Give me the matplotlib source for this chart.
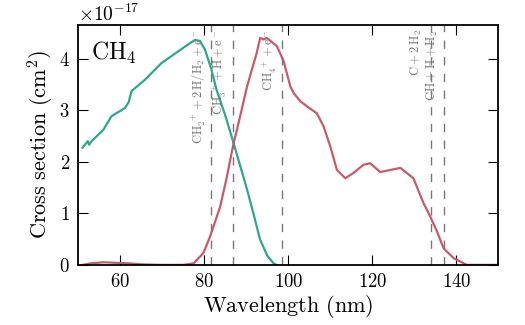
import numpy as np
import matplotlib
matplotlib.use("Agg")
import matplotlib.pyplot as plt

plt.rcParams.update({
    "font.family": "serif",
    "font.serif": ["cmr10"],
    "mathtext.fontset": "cm",
    "axes.formatter.use_mathtext": True,
    "xtick.direction": "in",
    "ytick.direction": "in",
    "xtick.top": True,
    "ytick.right": True,
})

# ionisation-type channel (teal)
wl_teal = [51.0, 51.6, 52.3, 52.6, 53.2, 56.0, 57.9, 61.1, 62.0, 62.7, 65.9,
           69.8, 73.8, 77.0, 77.8, 79.0, 80.2, 81.7, 82.9, 85.0, 87.0, 88.6,
           90.2, 91.7, 93.3, 95.0, 96.5, 97.2]
cs_teal = [2.27, 2.33, 2.40, 2.33, 2.40, 2.62, 2.88, 3.04, 3.15, 3.37, 3.59,
           3.91, 4.14, 4.32, 4.36, 4.34, 4.17, 3.79, 3.40, 2.90, 2.36, 1.91,
           1.46, 1.00, 0.49, 0.18, 0.03, 0.0]

# dissociation channel (red)
wl_red = [51.0, 53.0, 56.0, 59.0, 62.0, 65.0, 70.0, 75.0, 77.5, 79.8, 81.4,
          83.8, 85.4, 86.2, 87.0, 87.8, 90.2, 92.5, 93.3, 94.1, 94.9, 97.3,
          98.9, 100.5, 101.3, 102.9, 105.2, 106.8, 108.4, 110.0, 111.6, 113.6,
          115.5, 117.9, 119.5, 121.9, 124.3, 126.7, 129.8, 132.2, 133.8,
          135.4, 137.0, 139.4, 142.5, 150.0]
cs_red = [0.0, 0.03, 0.05, 0.04, 0.03, 0.01, 0.0, 0.0, 0.03, 0.23, 0.55,
          1.13, 1.71, 2.04, 2.36, 2.62, 3.46, 4.11, 4.40, 4.37, 4.40, 4.24,
          3.95, 3.46, 3.33, 3.17, 3.03, 2.94, 2.69, 2.30, 1.84, 1.68, 1.78,
          1.94, 1.97, 1.80, 1.84, 1.88, 1.68, 1.20, 0.94, 0.65, 0.32, 0.13,
          0.0, 0.0]

# dissociation thresholds
thr_wl = [81.7, 86.9, 98.6, 134.0, 137.0]
thr_labels = [r"$\mathrm{CH_2^{\ +} + 2\,H/H_2 + e^-}$",
              r"$\mathrm{CH_3^{\ +} + H + e^-}$",
              r"$\mathrm{CH_4^{\ +} + e^-}$",
              r"$\mathrm{C + 2\,H_2}$",
              r"$\mathrm{CH + H + H_2}$"]
label_gap = [0.9, 0.9, 0.9, 1.7, 0.8]  # gap between label and its line

scale = 1e-17

fig = plt.figure(figsize=(5.25, 3.25), dpi=100)
ax = fig.add_axes([0.149, 0.185, 0.80, 0.738])

ax.plot(wl_teal, np.array(cs_teal) * scale, color="#2ea78f", lw=1.6)
ax.plot(wl_red, np.array(cs_red) * scale, color="#c85a6c", lw=1.6)

for w, lab, gap in zip(thr_wl, thr_labels, label_gap):
    ax.axvline(w, color="#777777", lw=1.0, dashes=(6, 6))
    ax.text(w - gap, 4.57 * scale, lab, rotation=90, ha="right", va="top",
            fontsize=9, color="#777777")

ax.text(0.03, 0.94, r"$\mathrm{CH_4}$", transform=ax.transAxes,
        fontsize=17, va="top", ha="left")

ax.set_xlim(50, 150)
ax.set_ylim(0, 4.65 * scale)
ax.set_xticks([60, 80, 100, 120, 140])
ax.set_yticks(np.arange(0, 5) * scale)
ax.tick_params(labelsize=13.5, length=7, width=0.8, pad=6)
ax.yaxis.get_offset_text().set_fontsize(14)
for sp in ax.spines.values():
    sp.set_linewidth(1.3)

ax.set_xlabel(r"$\mathrm{Wavelength\ (nm)}$", fontsize=16, labelpad=1)
ax.set_ylabel(r"$\mathrm{Cross\ section\ (cm^2)}$", fontsize=16, labelpad=2)

fig.savefig("out.png", dpi=100)
